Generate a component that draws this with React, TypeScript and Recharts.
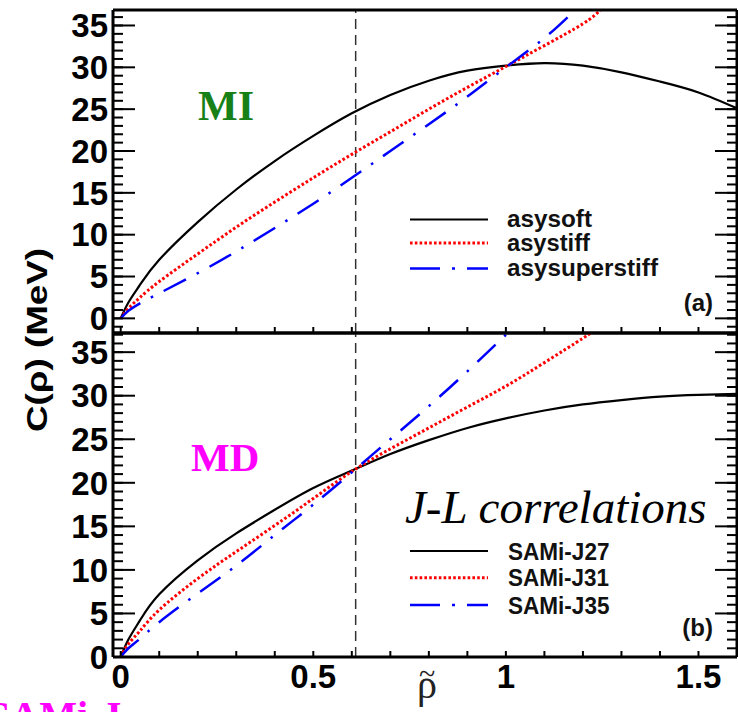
import React from 'react';
import { LineChart, Line, XAxis, YAxis, ReferenceLine } from 'recharts';

// ---------------- data ----------------
// Panel (a): MI
const rhoAsysoft = [0, 0.02, 0.05, 0.1, 0.2, 0.3, 0.4, 0.5, 0.6, 0.7, 0.8, 0.9, 1.0, 1.1, 1.2, 1.3, 1.4, 1.5, 1.6];
const cAsysoft = [0, 1.9, 4.0, 7.0, 11.5, 15.4, 18.8, 21.8, 24.5, 26.7, 28.4, 29.6, 30.2, 30.5, 30.2, 29.4, 28.3, 27.0, 25.1];
const rhoAsystiff = [0, 0.02, 0.05, 0.1, 0.2, 0.3, 0.4, 0.5, 0.6, 0.7, 0.8, 0.9, 1.0, 1.1, 1.2, 1.245];
const cAsystiff = [0, 1.2, 2.5, 4.4, 7.7, 10.9, 13.9, 16.8, 19.6, 22.3, 25.0, 27.6, 30.1, 32.6, 35.2, 36.85];
const rhoAsysuperstiff = [0, 0.02, 0.05, 0.1, 0.2, 0.3, 0.4, 0.5, 0.6, 0.7, 0.8, 0.9, 1.0, 1.1, 1.18];
const cAsysuperstiff = [0, 0.9, 1.8, 3.0, 5.4, 8.0, 10.8, 13.7, 16.8, 20.0, 23.2, 26.5, 30.0, 33.5, 36.85];

// Panel (b): MD, J-L correlations
const rhoJ27 = [0, 0.02, 0.05, 0.1, 0.2, 0.3, 0.4, 0.5, 0.6, 0.7, 0.8, 0.9, 1.0, 1.1, 1.2, 1.3, 1.4, 1.5, 1.6];
const cJ27 = [0, 2.0, 4.2, 7.2, 11.1, 14.2, 16.9, 19.4, 21.4, 23.3, 24.9, 26.3, 27.4, 28.3, 29.0, 29.5, 29.9, 30.1, 30.2];
const rhoJ31 = [0, 0.02, 0.05, 0.1, 0.2, 0.3, 0.4, 0.5, 0.6, 0.7, 0.8, 0.9, 1.0, 1.1, 1.2, 1.22];
const cJ31 = [0, 1.5, 3.0, 5.4, 9.0, 12.1, 15.1, 18.2, 21.3, 23.9, 26.3, 28.7, 31.1, 33.8, 36.6, 37.2];
const rhoJ35 = [0, 0.02, 0.05, 0.1, 0.2, 0.3, 0.4, 0.5, 0.6, 0.7, 0.8, 0.9, 1.0];
const cJ35 = [0, 1.0, 2.1, 4.0, 7.3, 10.5, 14.0, 17.5, 21.2, 25.0, 28.8, 32.8, 37.0];

const seriesNamesA = ['asysoft', 'asystiff', 'asysuperstiff'];
const seriesNamesB = ['SAMi-J27', 'SAMi-J31', 'SAMi-J35'];

// ticks
const xLabelTicks = [0, 0.5, 1, 1.5];
const xMajorTicks = [0, 0.5, 1, 1.5];
const xMinorTicks = [0, 0.1, 0.2, 0.3, 0.4, 0.5, 0.6, 0.7, 0.8, 0.9, 1, 1.1, 1.2, 1.3, 1.4, 1.5, 1.6];
const yLabelTicks = [0, 5, 10, 15, 20, 25, 30, 35];
const yMajorTicks = [0, 5, 10, 15, 20, 25, 30, 35];
const yMinorTicksA = [-1, 0, 1, 2, 3, 4, 5, 6, 7, 8, 9, 10, 11, 12, 13, 14, 15, 16, 17, 18, 19, 20, 21, 22, 23, 24, 25, 26, 27, 28, 29, 30, 31, 32, 33, 34, 35, 36];
const yMinorTicksB = [0, 1, 2, 3, 4, 5, 6, 7, 8, 9, 10, 11, 12, 13, 14, 15, 16, 17, 18, 19, 20, 21, 22, 23, 24, 25, 26, 27, 28, 29, 30, 31, 32, 33, 34, 35, 36, 37];
const rhoRef = 0.61;

const toPts = (xs: number[], ys: number[]) => xs.map((x, i) => ({ x, y: ys[i] }));

// ---------------- styles ----------------
const X_DOMAIN: [number, number] = [-0.02, 1.6];
const Y_DOMAIN_A: [number, number] = [-1.75, 36.85];
const Y_DOMAIN_B: [number, number] = [0, 37.2];
const SANS = 'Liberation Sans, Arial, Helvetica, sans-serif';
const SERIF = 'Liberation Serif, Times New Roman, serif';
const FRAME = { stroke: '#000', strokeWidth: 3 };
const TICKLINE = { stroke: '#000', strokeWidth: 2 };
const STYLES = [
  { stroke: '#000000', strokeWidth: 2.2, dash: undefined as string | undefined },
  { stroke: '#ff0000', strokeWidth: 3, dash: '2.6 2.2' },
  { stroke: '#0000ff', strokeWidth: 2.5, dash: '25 12 2.5 12' },
];
const NoTick = () => <g />;

const XLabelTick = (props: any) => {
  const { x, y, payload } = props;
  return (
    <text x={x} y={y} dy="0.71em" textAnchor="middle" fontFamily={SANS} fontWeight={700} fontSize={33} fill="#000">
      {String(payload.value)}
    </text>
  );
};

function frameAxes(yMinor: number[], yDomain: [number, number]) {
  const common = { type: 'number' as const, allowDataOverflow: true, interval: 0 as const, tick: NoTick, mirror: true, tickLine: TICKLINE };
  return [
    <XAxis key="xb" xAxisId="xb" dataKey="x" orientation="bottom" domain={X_DOMAIN} ticks={xMinorTicks} tickSize={6} height={0.001} axisLine={FRAME} {...common} />,
    <XAxis key="xbM" xAxisId="xbM" orientation="bottom" domain={X_DOMAIN} ticks={xMajorTicks} tickSize={12} height={0.001} axisLine={false} {...common} />,
    <XAxis key="xt" xAxisId="xt" orientation="top" domain={X_DOMAIN} ticks={xMinorTicks} tickSize={6} height={0.001} axisLine={FRAME} {...common} />,
    <XAxis key="xtM" xAxisId="xtM" orientation="top" domain={X_DOMAIN} ticks={xMajorTicks} tickSize={12} height={0.001} axisLine={false} {...common} />,
    <YAxis key="yl" yAxisId="yl" orientation="left" domain={yDomain} ticks={yMinor} tickSize={10} width={0.001} axisLine={FRAME} {...common} />,
    <YAxis key="ylM" yAxisId="ylM" orientation="left" domain={yDomain} ticks={yMajorTicks} tickSize={22} width={0.001} axisLine={false} {...common} />,
    <YAxis key="yr" yAxisId="yr" orientation="right" domain={yDomain} ticks={yMinor} tickSize={10} width={0.001} axisLine={FRAME} {...common} />,
    <YAxis key="yrM" yAxisId="yrM" orientation="right" domain={yDomain} ticks={yMajorTicks} tickSize={22} width={0.001} axisLine={false} {...common} />,
  ];
}

const tickFont = { fontSize: 33, fontWeight: 700, fill: '#000', fontFamily: SANS };

function seriesLines(sets: { x: number; y: number }[][], names: string[], xId: string) {
  return sets.map((d, i) => (
    <Line
      key={names[i]}
      name={names[i]}
      data={d}
      dataKey="y"
      xAxisId={xId}
      yAxisId="y"
      type="natural"
      dot={false}
      activeDot={false}
      stroke={STYLES[i].stroke}
      strokeWidth={STYLES[i].strokeWidth}
      strokeDasharray={STYLES[i].dash}
      isAnimationActive={false}
    />
  ));
}

function LegendBlock({ names, rows, textX, widths, dy }: { names: string[]; rows: number[]; textX: number; widths: number[]; dy: number }) {
  return (
    <g>
      {names.map((n, i) => (
        <g key={n}>
          <line x1={410} x2={488} y1={rows[i]} y2={rows[i]} stroke={STYLES[i].stroke} strokeWidth={STYLES[i].strokeWidth}
            strokeDasharray={i === 2 ? '30 12 3 12' : STYLES[i].dash} />
          <text x={textX} y={rows[i] + dy} fontFamily={SANS} fontWeight={700} fontSize={23} fill="#111"
            textLength={widths[i]} lengthAdjust="spacingAndGlyphs">{n}</text>
        </g>
      ))}
    </g>
  );
}

export default function App() {
  const setsA = [toPts(rhoAsysoft, cAsysoft), toPts(rhoAsystiff, cAsystiff), toPts(rhoAsysuperstiff, cAsysuperstiff)];
  const setsB = [toPts(rhoJ27, cJ27), toPts(rhoJ31, cJ31), toPts(rhoJ35, cJ35)];
  return (
    <div style={{ position: 'absolute', left: 0, top: 0, width: 738, height: 712, overflow: 'hidden', background: '#fff' }}>
      {/* Panel (a) */}
      <div style={{ position: 'absolute', left: 0, top: 0 }}>
        <LineChart width={738} height={345} margin={{ top: 10, right: 1, bottom: 12, left: 0 }}>
          {frameAxes(yMinorTicksA, Y_DOMAIN_A)}
          <YAxis yAxisId="y" orientation="left" type="number" domain={Y_DOMAIN_A} allowDataOverflow ticks={yLabelTicks}
            interval={0} width={113} tickSize={0} tickMargin={5} axisLine={false} tickLine={false} tick={tickFont} />
          <ReferenceLine x={rhoRef} xAxisId="xb" yAxisId="y" stroke="#333" strokeWidth={1.5} strokeDasharray="10 6" />
          {seriesLines(setsA, seriesNamesA, 'xb')}
        </LineChart>
      </div>
      {/* Panel (b) */}
      <div style={{ position: 'absolute', left: 0, top: 323 }}>
        <LineChart width={738} height={389} margin={{ top: 10, right: 1, bottom: 0, left: 0 }}>
          <XAxis xAxisId="x" dataKey="x" orientation="bottom" type="number" domain={X_DOMAIN} allowDataOverflow ticks={xLabelTicks}
            interval={0} height={55} tickSize={0} tickMargin={8} axisLine={false} tickLine={false} tick={XLabelTick} />
          {frameAxes(yMinorTicksB, Y_DOMAIN_B)}
          <YAxis yAxisId="y" orientation="left" type="number" domain={Y_DOMAIN_B} allowDataOverflow ticks={yLabelTicks}
            interval={0} width={113} tickSize={0} tickMargin={5} axisLine={false} tickLine={false} tick={tickFont} />
          <ReferenceLine x={rhoRef} xAxisId="x" yAxisId="y" stroke="#333" strokeWidth={1.5} strokeDasharray="10 6" />
          {seriesLines(setsB, seriesNamesB, 'x')}
        </LineChart>
      </div>
      {/* annotations */}
      <svg width={738} height={712} style={{ position: 'absolute', left: 0, top: 0, pointerEvents: 'none' }}>
        <text x={198} y={120} fontFamily={SERIF} fontWeight={700} fontSize={42} fill="#178017">MI</text>
        <text x={191} y={471} fontFamily={SERIF} fontWeight={700} fontSize={41} fill="#ff00ff">MD</text>
        <text x={405} y={523} fontFamily={SERIF} fontStyle="italic" fontSize={47} fill="#000">J-L correlations</text>
        <LegendBlock names={seriesNamesA} rows={[219.5, 243, 268.5]} textX={507} widths={[85, 83, 151]} dy={7.5} />
        <LegendBlock names={seriesNamesB} rows={[551, 577.7, 605]} textX={508} widths={[101.5, 101, 101.5]} dy={8.5} />
        <text x={713} y={311} textAnchor="end" fontFamily={SANS} fontWeight={700} fontSize={24} fill="#111">(a)</text>
        <text x={713} y={636} textAnchor="end" fontFamily={SANS} fontWeight={700} fontSize={24} fill="#111">(b)</text>
        <text transform="translate(46.5,340) rotate(-90)" textAnchor="middle" fontFamily={SANS} fontWeight={700} fontSize={30}
          fill="#000" textLength={184} lengthAdjust="spacingAndGlyphs">C(ρ) (MeV)</text>
        <text x={427} y={698} textAnchor="middle" fontFamily={SERIF} fontSize={40} fill="#222">ρ</text>
        <text x={427} y={684} textAnchor="middle" fontFamily={SERIF} fontSize={30} fill="#222">~</text>
        <text x={-12} y={729} fontFamily={SERIF} fontWeight={700} fontSize={40} fill="#ff00ff">SAMi-J</text>
      </svg>
    </div>
  );
}
